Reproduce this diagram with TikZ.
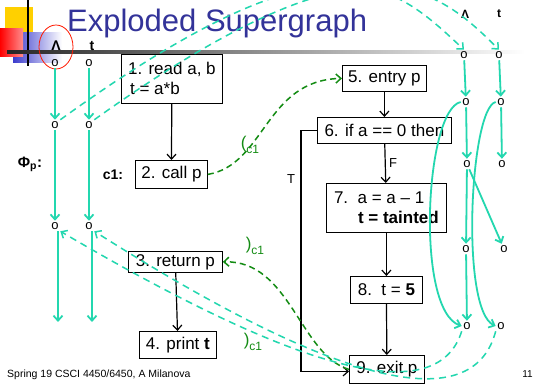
\documentclass[tikz,border=0pt]{standalone}
\usepackage{fontspec}
\setmainfont{Liberation Sans}
\usetikzlibrary{arrows.meta}
\definecolor{teal1}{RGB}{35,215,175}
\definecolor{cgreen}{RGB}{20,140,20}
\definecolor{titleblue}{RGB}{51,51,153}
\definecolor{gold1}{RGB}{255,208,0}
\definecolor{blue1}{RGB}{60,60,205}

\begin{document}
\begin{tikzpicture}[x=1pt,y=-1pt,>={Straight Barb[length=5pt,width=9pt]},
  box/.style={draw,line width=0.8pt,fill=white,font=\fontsize{17}{20}\selectfont,inner sep=0pt,align=left,anchor=north west},
  fact/.style={font=\fontsize{13}{13}\selectfont,inner sep=1.5pt},
  var/.style={font=\bfseries\fontsize{14}{14}\selectfont},
  flow/.style={teal1,line width=1.8pt,->},
  link/.style={teal1,line width=1.5pt,dash pattern=on 7pt off 5pt,->},
  pcall/.style={cgreen,line width=1.5pt,dash pattern=on 6pt off 4pt,->},
  cfg/.style={line width=1.2pt,->},
  lab/.style={font=\fontsize{13}{13}\selectfont},
  glab/.style={cgreen,font=\fontsize{17}{17}\selectfont,inner sep=0pt}]
\useasboundingbox (0,0) rectangle (536,387);
\clip (0,0) rectangle (536,387);
\fill[white] (0,0) rectangle (536,387);
\fill[gold1] (5,7) rectangle (33,33);
\shade[left color=blue1, middle color=blue1!85, right color=white] (13,33) rectangle (62,63);
\shade[left color=red, right color=red!45] (0,29) rectangle (23,57);
\draw[line width=2pt] (28,0) -- (28,66);
\shade[left color=black!85, right color=white] (7,50.5) rectangle (525,53.5);
\draw[red!80!orange, line width=0.8pt] (56,47) ellipse [x radius=17pt, y radius=22pt];
\node[titleblue, anchor=base west, font=\fontsize{31}{31}\selectfont, inner sep=0pt] (title) at (67,32) {Exploded Supergraph};

\node[var] (lz) at (56,46) {Λ};
\node[var] (ltv) at (92,46) {t};
\node[var, font=\bfseries\fontsize{12}{12}\selectfont] (rz) at (465,14) {Λ};
\node[var, font=\bfseries\fontsize{12}{12}\selectfont] (rtv) at (499,14) {t};

\node[fact] (la1) at (55,63) {o};  \node[fact] (lt1) at (89,63) {o};
\node[fact] (la2) at (55,125) {o}; \node[fact] (lt2) at (89,125) {o};
\node[fact] (la3) at (55,226) {o}; \node[fact] (lt3) at (89,226) {o};
\coordinate (la4) at (58,322);     \coordinate (lt4) at (92,322);
\node[fact] (ra1) at (464,55) {o};  \node[fact] (rt1) at (499,55) {o};
\node[fact] (ra2) at (466,102) {o}; \node[fact] (rt2) at (501,102) {o};
\node[fact] (ra3) at (467,164) {o}; \node[fact] (rt3) at (502,164) {o};
\node[fact] (ra4) at (466,249) {o}; \node[fact] (rt4) at (504,249) {o};
\node[fact] (ra5) at (467,326) {o}; \node[fact] (rt5) at (501,326) {o};

\node[font=\bfseries\fontsize{15}{15}\selectfont] (phi) at (30,164) {Φ\textsubscript{p}:};
\node[font=\bfseries\fontsize{14}{14}\selectfont] (c1) at (113,175) {c1:};

\node[box, minimum width=101pt, minimum height=49pt] (read) at (121,54) {1. read a, b\\ \hspace*{2pt}t = a*b};
\node[box, minimum width=72pt, minimum height=28pt] (call) at (135,160) {2. call p};
\node[box, minimum width=94pt, minimum height=21pt] (ret) at (128,251) {3. return p};
\node[box, minimum width=77pt, minimum height=27pt] (print) at (139,331) {4. print \textbf{t}};
\node[box, minimum width=84pt, minimum height=26pt] (entry) at (342,65) {5. entry p};
\node[box, minimum width=134pt, minimum height=26pt] (if) at (317,117) {6. if a == 0 then};
\node[box, minimum width=120pt, minimum height=49pt] (taint) at (326,183) {7.~~a = a -- 1\\\hspace*{24pt}\textbf{t = tainted}};
\node[box, minimum width=72pt, minimum height=27pt] (five) at (350,276) {8.~~t = \textbf{5}};
\node[box, minimum width=75pt, minimum height=28pt] (exit) at (349,355) {9. exit p};

\draw[cfg] (read) -- (call);
\draw[cfg] (ret) -- (print);
\draw[cfg] (entry) -- (if);
\draw[cfg] (if) -- node[lab, right] {F} (taint);
\draw[cfg] (taint) -- (five);
\draw[cfg] (five) -- (exit);
\draw[cfg] (if.west) -- ++(-16,0) |- node[lab, pos=0.1, left=2pt] {T} ([yshift=-2pt]exit.west);

\draw[pcall] (call.east) .. controls (265,165) and (265,80) .. (entry.west);
\draw[pcall] (exit.west) .. controls (300,355) and (290,260) .. (ret.east);
\node[glab] (open) at (250,145) {(\raisebox{-5pt}{\fontsize{12}{12}\selectfont c1}};
\node[glab] (close1) at (255,246) {)\raisebox{-5pt}{\fontsize{12}{12}\selectfont c1}};
\node[glab] (close2) at (253,342) {)\raisebox{-5pt}{\fontsize{12}{12}\selectfont c1}};

\draw[flow] (la1) -- (la2);
\draw[flow] (lt1) -- (lt2);
\draw[flow] (la2) -- (la3);
\draw[flow] (lt2) -- (lt3);
\draw[flow] ([xshift=3pt]la3.south) -- (la4);
\draw[flow] ([xshift=3pt]lt3.south) -- (lt4);
\draw[flow] (ra1) -- (ra2);
\draw[flow] (rt1) -- (rt2);
\draw[flow] (ra2) -- (ra3);
\draw[flow] (rt2) -- (rt3);
\draw[flow] (ra3) -- (ra4);
\draw[flow] (ra4) -- (ra5);
\draw[flow] (ra3) -- (rt4);
\draw[flow] (ra2.west) .. controls (425,110) and (415,310) .. (ra5.west);
\draw[flow] (rt2.west) .. controls (470,108) and (460,310) .. (rt5.west);

\draw[link] (la2.north east) .. controls (330,-75) and (390,-20) .. (ra1.north);
\draw[link] (lt2.north east) .. controls (360,-70) and (430,-20) .. (rt1.north);
\draw[link] (ra5.south west) .. controls (440,400) and (330,390) .. (la3.south east);
\draw[link] (rt5.south west) .. controls (475,410) and (360,400) .. (lt3.south east);

\node[anchor=base west, font=\fontsize{10.5}{10.5}\selectfont, inner sep=0pt] (foot) at (7,378) {Spring 19 CSCI 4450/6450, A Milanova};
\node[anchor=base east, font=\fontsize{10}{10}\selectfont, inner sep=0pt] (page) at (533,378) {11};
\end{tikzpicture}
\end{document}
